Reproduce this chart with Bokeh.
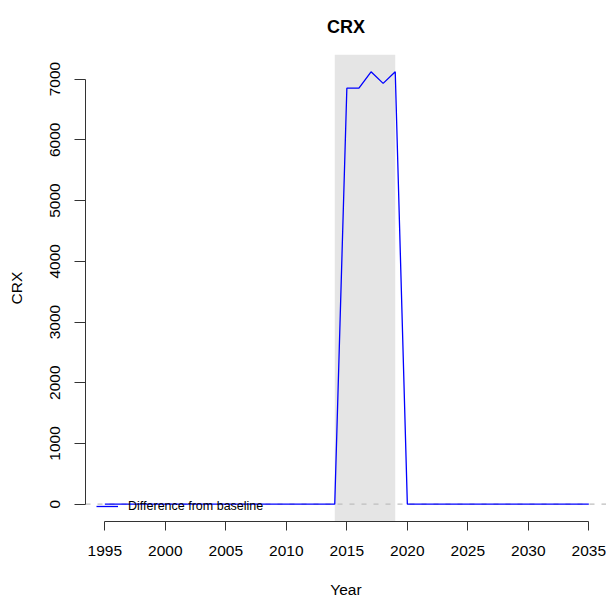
from bokeh.plotting import figure
from bokeh.models import BoxAnnotation, Span, FixedTicker, Range1d
from bokeh.embed import file_html
from bokeh.resources import INLINE

# ---- data ----
years = list(range(1995, 2036))
diff_values = [0] * 20 + [6850, 6850, 7120, 6930, 7120] + [0] * 16
shade_start = 2014
shade_end = 2019
x_ticks = [1995, 2000, 2005, 2010, 2015, 2020, 2025, 2030, 2035]
y_ticks = [0, 1000, 2000, 3000, 4000, 5000, 6000, 7000]
title_text = "CRX"
y_label = "CRX"
x_label = "Year"
legend_text = "Difference from baseline"

FONT = "Liberation Sans"

p = figure(width=606, height=600, output_backend="svg", toolbar_location=None,
           x_range=Range1d(1993.4, 2036.46), y_range=Range1d(-285, 7405),
           min_border_left=85, min_border_right=0, min_border_top=54,
           min_border_bottom=78, title=title_text)
p.outline_line_color = None
p.xgrid.visible = False
p.ygrid.visible = False
p.background_fill_color = "white"
p.border_fill_color = "white"

p.title.align = "center"
p.title.vertical_align = "top"
p.title.text_font = FONT
p.title.text_font_size = "18px"
p.title.text_font_style = "bold"
p.title.text_color = "black"
p.title.standoff = 32
p.title.offset = 2

shade = BoxAnnotation(left=shade_start, right=shade_end, fill_color="#E5E5E5",
                      fill_alpha=1.0, line_alpha=0, level="underlay")
p.add_layout(shade)
zero = Span(location=0, dimension="width", line_color="#BEBEBE", line_width=1.3,
            line_dash="5 7", level="underlay")
p.add_layout(zero)

p.line(years, diff_values, line_color="#0000FF", line_width=1.3, legend_label=legend_text)

for ax, ticks, lab in ((p.xaxis[0], x_ticks, x_label), (p.yaxis[0], y_ticks, y_label)):
    ax.ticker = FixedTicker(ticks=ticks)
    ax.bounds = (ticks[0], ticks[-1])
    ax.axis_label = lab
    ax.axis_label_text_font = FONT
    ax.axis_label_text_font_size = "15.5px"
    ax.axis_label_text_font_style = "normal"
    ax.axis_label_text_color = "black"
    ax.major_label_text_font = FONT
    ax.major_label_text_font_size = "15.5px"
    ax.major_label_text_color = "black"
    ax.axis_line_color = "#333333"
    ax.major_tick_line_color = "#333333"
    ax.major_tick_in = 0
    ax.minor_tick_line_color = None

p.xaxis[0].major_tick_out = 9
p.xaxis[0].major_label_standoff = 15
p.xaxis[0].axis_label_standoff = 22
p.yaxis[0].major_tick_out = 11
p.yaxis[0].major_label_orientation = "vertical"
p.yaxis[0].major_label_standoff = 14
p.yaxis[0].axis_label_standoff = 23

leg = p.legend[0]
leg.location = (11, 8)
leg.border_line_color = None
leg.background_fill_alpha = 0
leg.padding = 0
leg.margin = 0
leg.spacing = 0
leg.glyph_width = 22
leg.glyph_height = 14
leg.label_height = 14
leg.label_standoff = 10
leg.label_text_font = FONT
leg.label_text_font_size = "12.5px"
leg.label_text_color = "black"

open("out.html", "w").write(file_html(p, INLINE))
